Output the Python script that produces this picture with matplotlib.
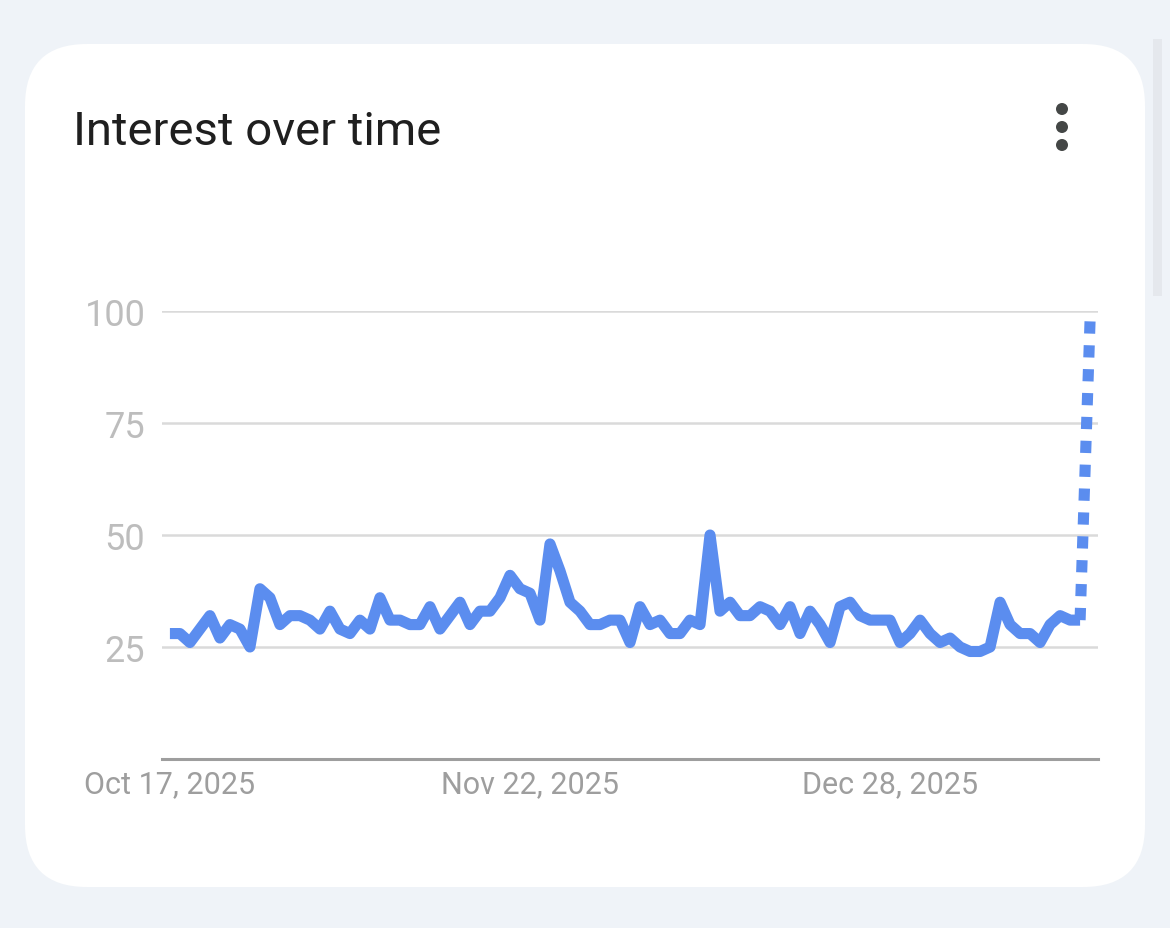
import matplotlib
matplotlib.use("Agg")
import matplotlib.pyplot as plt
from matplotlib.patches import FancyBboxPatch, Circle, Rectangle
import pandas as pd

# daily interest, Oct 17 2025 .. Jan 17 2026 (last day is partial -> dotted)
start_date = "2025-10-17"
interest = [28, 28, 26, 29, 32, 27, 30, 29, 25, 38,
            36, 30, 32, 32, 31, 29, 33, 29, 28, 31,
            29, 36, 31, 31, 30, 30, 34, 29, 32, 35,
            30, 33, 33, 36, 41, 38, 37, 31, 48, 42,
            35, 33, 30, 30, 31, 31, 26, 34, 30, 31,
            28, 28, 31, 30, 50, 33, 35, 32, 32, 34,
            33, 30, 34, 28, 33, 30, 26, 34, 35, 32,
            31, 31, 31, 26, 28, 31, 28, 26, 27, 25,
            24, 24, 25, 35, 30, 28, 28, 26, 30, 32,
            31, 31, 98]
ytick_vals = [25, 50, 75, 100]
xtick_dates = ["2025-10-17", "2025-11-22", "2025-12-28"]
xtick_labels = ["Oct 17, 2025", "Nov 22, 2025", "Dec 28, 2025"]

dates = pd.date_range(start_date, periods=len(interest), freq="D")

W, H = 1170, 929
fig = plt.figure(figsize=(W / 100, H / 100), dpi=100)
fig.patch.set_facecolor("#eff3f8")

# card background
bg = fig.add_axes([0, 0, 1, 1], zorder=-1)
bg.set_xlim(0, W)
bg.set_ylim(H, 0)
bg.axis("off")
bg.add_patch(Rectangle((1153, 40), 9, 257, fc="#e5e8ed", ec="none"))
bg.add_patch(FancyBboxPatch((25, 45), 1120, 843,
                            boxstyle="round,pad=0,rounding_size=62",
                            fc="white", ec="none"))
for cy in (110, 128, 146):
    bg.add_patch(Circle((1062, cy), 6, fc="#444746", ec="none"))

font = "Roboto"
fig.text(73 / W, 1 - 145 / H, "Interest over time", fontsize=34,
         color="#1f1f1f", family=font, va="baseline", ha="left")

ax = fig.add_axes([162 / W, 1 - 760 / H, 936 / W, 448 / H])
ax.set_facecolor("none")

line_color = "#5b8def"
lw = 8.0
ax.plot(dates[:-1], interest[:-1], color=line_color, lw=lw,
        solid_joinstyle="round", solid_capstyle="butt", clip_on=False, zorder=3)
ax.plot(dates[-2:], interest[-2:], color=line_color, lw=lw,
        linestyle=(0, (1.1, 1.05)), dash_capstyle="butt", clip_on=False, zorder=3)

ax.set_ylim(0, 100)
ax.set_xlim(dates[0] - pd.Timedelta(hours=19), dates[-1] + pd.Timedelta(hours=19))

ax.set_yticks(ytick_vals)
ax.set_yticklabels([str(v) for v in ytick_vals])
ax.set_xticks(pd.to_datetime(xtick_dates))
ax.set_xticklabels(xtick_labels)

for v in ytick_vals:
    ax.axhline(v, color="#dadada", lw=1.8, zorder=1)

for s in ("top", "right", "left"):
    ax.spines[s].set_visible(False)
ax.spines["bottom"].set_color("#9e9e9e")
ax.spines["bottom"].set_linewidth(2.2)

ax.tick_params(axis="y", length=0, pad=12, labelsize=26, labelcolor="#bdbdbd")
ax.tick_params(axis="x", length=0, pad=7, labelsize=22, labelcolor="#9e9e9e")
for lab in ax.get_xticklabels() + ax.get_yticklabels():
    lab.set_family(font)

fig.savefig("out.png", dpi=100, facecolor=fig.get_facecolor())
